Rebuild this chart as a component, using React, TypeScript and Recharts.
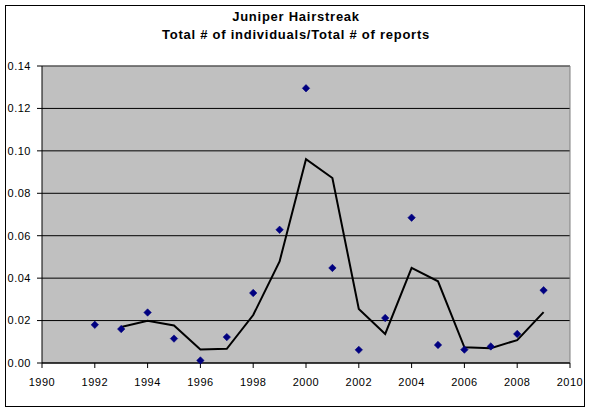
import React from 'react';
import { ComposedChart, Scatter, Line, XAxis, YAxis, CartesianGrid, ReferenceLine } from 'recharts';

const years = [1992, 1993, 1994, 1995, 1996, 1997, 1998, 1999, 2000, 2001, 2002, 2003, 2004, 2005, 2006, 2007, 2008, 2009];
const ratios = [0.018, 0.016, 0.0238, 0.0115, 0.0012, 0.0122, 0.033, 0.0628, 0.1295, 0.0448, 0.0062, 0.0212, 0.0685, 0.0085, 0.0063, 0.0078, 0.0137, 0.0343];
const movingAverage = [null, 0.017, 0.0199, 0.0177, 0.0064, 0.0067, 0.0226, 0.0479, 0.0961, 0.0872, 0.0255, 0.0137, 0.0448, 0.0385, 0.0074, 0.007, 0.0108, 0.024];
const xTicks = [1990, 1992, 1994, 1996, 1998, 2000, 2002, 2004, 2006, 2008, 2010];
const yTicks = [0, 0.02, 0.04, 0.06, 0.08, 0.1, 0.12, 0.14];

const data = years.map((year, i) => ({ year, ratio: ratios[i], avg: movingAverage[i] }));

const FONT = 'Arial, "Liberation Sans", sans-serif';

const Diamond = (props: any) => {
  const { cx, cy } = props;
  if (cx == null || cy == null) return null;
  const r = 3.7;
  return (
    <polygon
      points={`${cx},${cy - r} ${cx + r},${cy} ${cx},${cy + r} ${cx - r},${cy}`}
      fill="#000080"
      stroke="#000080"
      strokeWidth={0.6}
      strokeLinejoin="round"
    />
  );
};

const tickStyle = { fill: '#000', fontSize: 11, fontFamily: FONT, letterSpacing: '0.5px' };

export default function App() {
  return (
    <div style={{ position: 'absolute', left: 0, top: 0, width: 592, height: 413, background: '#fff', fontFamily: FONT }}>
      <div
        style={{
          position: 'absolute',
          left: 5,
          top: 5,
          width: 580,
          height: 402,
          border: '1px solid #000',
          boxSizing: 'border-box',
        }}
      />
      <div
        style={{
          position: 'absolute',
          left: 0,
          top: 8,
          width: 592,
          textAlign: 'center',
          fontSize: 13,
          fontWeight: 'bold',
          lineHeight: '17.5px',
          letterSpacing: '0.75px',
          color: '#000',
        }}
      >
        <div>Juniper Hairstreak</div>
        <div>Total # of individuals/Total # of reports</div>
      </div>
      <div style={{ position: 'absolute', left: 0, top: 0 }}>
        <ComposedChart width={592} height={413} data={data} margin={{ top: 66, right: 22, left: 0, bottom: 0 }}>
          <CartesianGrid vertical={false} stroke="#000" strokeWidth={1} fill="#C0C0C0" fillOpacity={1} />
          <XAxis
            dataKey="year"
            type="number"
            domain={[1990, 2010]}
            ticks={xTicks}
            interval={0}
            height={50}
            stroke="#000"
            tickSize={5}
            tickMargin={10}
            tick={tickStyle}
            tickLine={{ stroke: '#000' }}
            axisLine={{ stroke: '#000' }}
          />
          <YAxis
            type="number"
            domain={[0, 0.14]}
            ticks={yTicks}
            interval={0}
            width={42}
            tickSize={5}
            tickMargin={6}
            tickFormatter={(v: number) => v.toFixed(2)}
            tick={tickStyle}
            tickLine={{ stroke: '#000' }}
            axisLine={{ stroke: '#000' }}
          />
          <ReferenceLine y={0.14} stroke="#808080" strokeWidth={1} />
          <ReferenceLine x={2010} stroke="#808080" strokeWidth={1} />
          <Line
            dataKey="avg"
            type="linear"
            stroke="#000"
            strokeWidth={2}
            dot={false}
            activeDot={false}
            isAnimationActive={false}
          />
          <Scatter dataKey="ratio" shape={<Diamond />} isAnimationActive={false} />
        </ComposedChart>
      </div>
    </div>
  );
}
